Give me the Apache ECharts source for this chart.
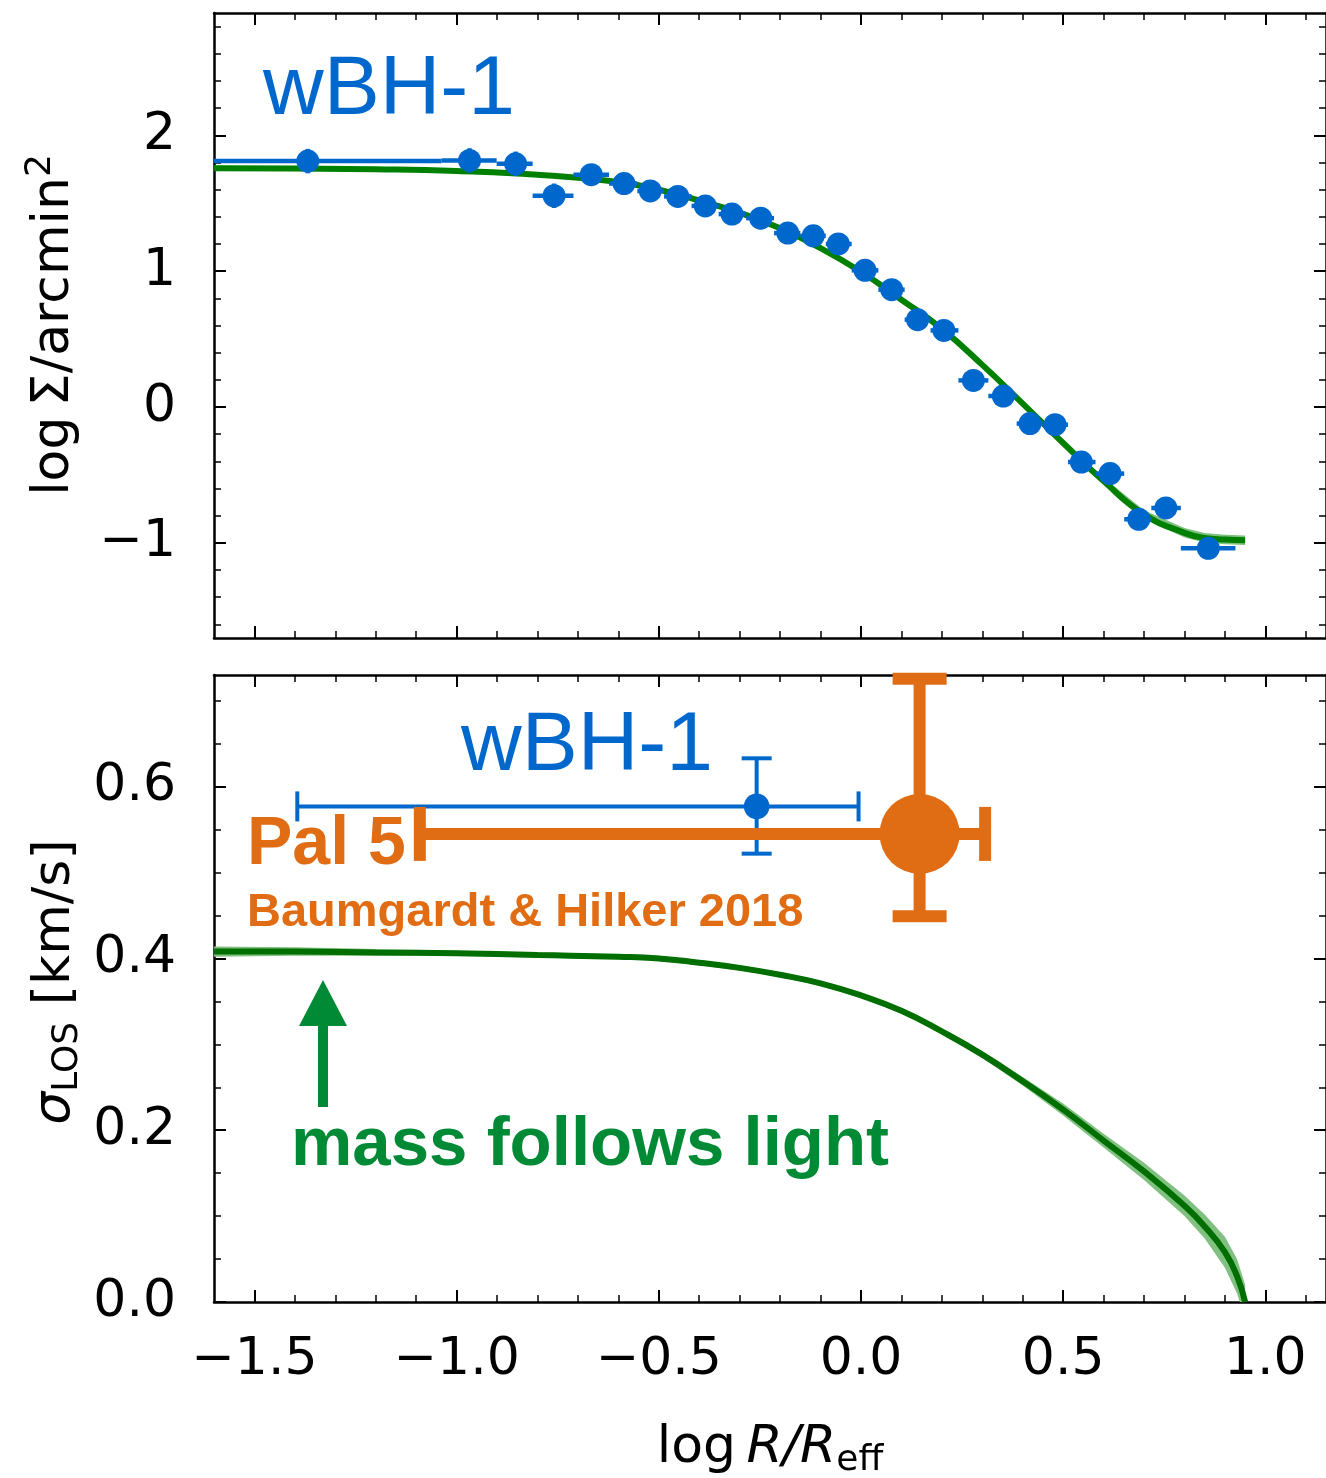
<!DOCTYPE html>
<html><head><meta charset="utf-8">
<script src="https://cdn.jsdelivr.net/npm/echarts@6/dist/echarts.min.js"></script>
<style>html,body{margin:0;padding:0;background:#fff}#c{width:1326px;height:1478px}</style>
</head><body><div id="c"></div><script>
// ---------- tick values ----------
const xMajorTicks = [-1.5, -1.0, -0.5, 0.0, 0.5, 1.0];
const xMinorTicks = [-1.4,-1.3,-1.2,-1.1,-0.9,-0.8,-0.7,-0.6,-0.4,-0.3,-0.2,-0.1,0.1,0.2,0.3,0.4,0.6,0.7,0.8,0.9,1.1];
const topYMajorTicks = [-1, 0, 1, 2];
const topYMinorTicks = [-1.6,-1.4,-1.2,-0.8,-0.6,-0.4,-0.2,0.2,0.4,0.6,0.8,1.2,1.4,1.6,1.8,2.2,2.4,2.6,2.8];
const botYMajorTicks = [0.0, 0.2, 0.4, 0.6];
const botYMinorTicks = [0.05,0.1,0.15,0.25,0.3,0.35,0.45,0.5,0.55,0.65,0.7];

// ---------- top panel: surface density profile ----------
const profX   = [-1.368,-0.968,-0.854,-0.759,-0.667,-0.586,-0.521,-0.453,-0.385,-0.319,-0.248,-0.181,-0.118,-0.056,0.010,0.076,0.140,0.205,0.278,0.352,0.418,0.480,0.545,0.616,0.687,0.754,0.859];
const profY   = [1.81,1.815,1.79,1.555,1.71,1.645,1.59,1.55,1.48,1.42,1.39,1.28,1.26,1.20,1.006,0.864,0.643,0.564,0.196,0.081,-0.122,-0.130,-0.405,-0.49,-0.826,-0.743,-1.04];
const profXLo = [-2.0,-1.037,-0.901,-0.812,-0.711,-0.623,-0.553,-0.487,-0.419,-0.352,-0.284,-0.215,-0.150,-0.087,-0.023,0.043,0.108,0.172,0.241,0.315,0.385,0.449,0.512,0.580,0.651,0.718,0.791];
const profXHi = [-1.037,-0.901,-0.812,-0.711,-0.623,-0.553,-0.487,-0.419,-0.352,-0.284,-0.215,-0.150,-0.087,-0.023,0.043,0.108,0.172,0.241,0.315,0.385,0.449,0.512,0.580,0.651,0.718,0.791,0.926];
const profYErr = [0.09,0.09,0.09,0.09,0.06,0.05,0.05,0.05,0.05,0.05,0.05,0.05,0.05,0.05,0.05,0.05,0.05,0.05,0.06,0.06,0.06,0.06,0.06,0.06,0.07,0.07,0.07];

const topModelX = [-1.6,-1.4,-1.2,-1.0,-0.8,-0.6,-0.5,-0.4,-0.3,-0.2,-0.1,0.0,0.1,0.2,0.3,0.4,0.5,0.6,0.7,0.8,0.85,0.9,0.95];
const topModelY = [1.757,1.755,1.75,1.737,1.71,1.656,1.60,1.52,1.43,1.315,1.17,0.995,0.79,0.575,0.31,0.025,-0.265,-0.545,-0.79,-0.926,-0.963,-0.975,-0.98];
const topBandHalf = [0.02,0.012,0.01,0.01,0.01,0.01,0.01,0.01,0.01,0.01,0.01,0.01,0.01,0.012,0.014,0.016,0.02,0.025,0.03,0.035,0.035,0.035,0.035];

// ---------- bottom panel: velocity dispersion ----------
const dispModelX = [-1.6,-1.4,-1.2,-1.0,-0.8,-0.6,-0.5,-0.4,-0.3,-0.2,-0.1,0.0,0.1,0.2,0.3,0.4,0.5,0.6,0.7,0.8,0.85,0.9,0.93,0.95];
const dispModelY = [0.408,0.408,0.407,0.406,0.404,0.402,0.400,0.395,0.389,0.381,0.371,0.357,0.339,0.315,0.288,0.257,0.224,0.188,0.152,0.112,0.088,0.058,0.030,0.0];
const dispBandHalf = [0.006,0.005,0.004,0.003,0.003,0.003,0.003,0.003,0.003,0.003,0.003,0.003,0.003,0.003,0.004,0.005,0.007,0.008,0.010,0.012,0.014,0.018,0.020,0.020];

// measured points: [x, y, xLo, xHi, yLo, yHi]
const wbhPoint = [-0.258, 0.577, -1.394, -0.006, 0.522, 0.633];
const pal5Point = [0.145, 0.545, -1.091, 0.307, 0.449, 0.7255];

const BLUE = '#0068CC', ORANGE = '#E06C14', GREEN = '#008000', LGREEN = '#80C080', TGREEN = '#008A35';
const FS = 52;

const chart = echarts.init(document.getElementById('c'), null, {renderer: 'canvas'});

function fmt(d) { return function (v) { return (v < 0 ? '\u2212' : '') + Math.abs(v).toFixed(d); }; }

function axis(gridIndex, position, min, max, ticks, len, w, label, lineShow) {
  return {
    type: 'value', gridIndex: gridIndex, position: position, min: min, max: max,
    splitLine: {show: false}, minorTick: {show: false},
    axisLine: {show: lineShow, onZero: false, lineStyle: {color: '#000', width: 2.5}},
    axisTick: {show: true, inside: true, length: len, lineStyle: {color: '#000', width: w}, customValues: ticks},
    axisLabel: label ? Object.assign({customValues: ticks, color: '#000', fontSize: FS, fontFamily: 'DejaVu Sans'}, label) : {show: false}
  };
}

const XMIN = -1.6, XMAX = 1.15;
const xAxes = [
  axis(0, 'bottom', XMIN, XMAX, xMajorTicks, 12, 2, null, true),
  axis(0, 'bottom', XMIN, XMAX, xMinorTicks, 7, 1.5, null, false),
  axis(0, 'top', XMIN, XMAX, xMajorTicks, 12, 2, null, true),
  axis(0, 'top', XMIN, XMAX, xMinorTicks, 7, 1.5, null, false),
  axis(1, 'bottom', XMIN, XMAX, xMajorTicks, 12, 2, {margin: 32, formatter: fmt(1)}, true),
  axis(1, 'bottom', XMIN, XMAX, xMinorTicks, 7, 1.5, null, false),
  axis(1, 'top', XMIN, XMAX, xMajorTicks, 12, 2, null, true),
  axis(1, 'top', XMIN, XMAX, xMinorTicks, 7, 1.5, null, false)
];
const yAxes = [
  axis(0, 'left', -1.7, 2.9, topYMajorTicks, 12, 2, {margin: 38, formatter: fmt(0)}, true),
  axis(0, 'left', -1.7, 2.9, topYMinorTicks, 7, 1.5, null, false),
  axis(0, 'right', -1.7, 2.9, topYMajorTicks, 12, 2, null, true),
  axis(0, 'right', -1.7, 2.9, topYMinorTicks, 7, 1.5, null, false),
  axis(1, 'left', 0, 0.73, botYMajorTicks, 12, 2, {margin: 38, formatter: fmt(1)}, true),
  axis(1, 'left', 0, 0.73, botYMinorTicks, 7, 1.5, null, false),
  axis(1, 'right', 0, 0.73, botYMajorTicks, 12, 2, null, true),
  axis(1, 'right', 0, 0.73, botYMinorTicks, 7, 1.5, null, false)
];

function bandSeries(xs, ys, half, axisIdx) {
  return {
    type: 'custom', xAxisIndex: axisIdx, yAxisIndex: axisIdx, clip: true, silent: true, z: 2,
    data: [[xs[0], ys[0]]],
    renderItem: function (params, api) {
      const pts = [];
      for (let i = 0; i < xs.length; i++) pts.push(api.coord([xs[i], ys[i] + half[i]]));
      for (let i = xs.length - 1; i >= 0; i--) pts.push(api.coord([xs[i], ys[i] - half[i]]));
      return {type: 'polygon', shape: {points: pts}, style: {fill: LGREEN}};
    }
  };
}

function lineSeries(xs, ys, axisIdx, color) {
  return {
    type: 'line', xAxisIndex: axisIdx, yAxisIndex: axisIdx, showSymbol: false, symbol: 'none',
    smooth: 0.5, silent: true, z: 3,
    lineStyle: {color: color, width: 6},
    data: xs.map(function (x, i) { return [x, ys[i]]; })
  };
}

function errSeries(data, axisIdx, color, lw, cap, r, clip, z) {
  return {
    type: 'custom', xAxisIndex: axisIdx, yAxisIndex: axisIdx, clip: clip, silent: true, z: z,
    data: data,
    renderItem: function (params, api) {
      const x = api.value(0), y = api.value(1);
      const c = api.coord([x, y]);
      const l = api.coord([api.value(2), y]), rr = api.coord([api.value(3), y]);
      const b = api.coord([x, api.value(4)]), t = api.coord([x, api.value(5)]);
      const st = {stroke: color, lineWidth: lw, fill: null};
      const ch = [
        {type: 'line', shape: {x1: l[0], y1: l[1], x2: rr[0], y2: rr[1]}, style: st},
        {type: 'line', shape: {x1: b[0], y1: b[1], x2: t[0], y2: t[1]}, style: st}
      ];
      if (cap > 0) {
        ch.push({type: 'line', shape: {x1: l[0], y1: l[1] - cap, x2: l[0], y2: l[1] + cap}, style: st});
        ch.push({type: 'line', shape: {x1: rr[0], y1: rr[1] - cap, x2: rr[0], y2: rr[1] + cap}, style: st});
        ch.push({type: 'line', shape: {x1: b[0] - cap, y1: b[1], x2: b[0] + cap, y2: b[1]}, style: st});
        ch.push({type: 'line', shape: {x1: t[0] - cap, y1: t[1], x2: t[0] + cap, y2: t[1]}, style: st});
      }
      ch.push({type: 'circle', shape: {cx: c[0], cy: c[1], r: r}, style: {fill: color}});
      return {type: 'group', children: ch};
    }
  };
}

const profData = profX.map(function (x, i) {
  return [x, profY[i], profXLo[i], profXHi[i], profY[i] - profYErr[i], profY[i] + profYErr[i]];
});

function tx(x, y, text, color, size, bold) {
  return {type: 'text', x: x, y: y, style: {text: text, fill: color, fontSize: size, fontWeight: bold ? 'bold' : 'normal',
    fontFamily: 'Liberation Sans', align: 'left', verticalAlign: 'middle', textAlign: 'left', textVerticalAlign: 'middle'}};
}
const RN = {fontSize: FS, fontFamily: 'DejaVu Sans', fill: '#000', color: '#000', lineHeight: 62, verticalAlign: 'middle'};
const RI = Object.assign({}, RN, {fontStyle: 'italic'});
const RSUB = {fontSize: 36, fontFamily: 'DejaVu Sans', fill: '#000', color: '#000', lineHeight: 36, verticalAlign: 'bottom'};
const RSUP = Object.assign({}, RSUB, {verticalAlign: 'top'});

const option = {
  animation: false,
  backgroundColor: '#fff',
  grid: [
    {left: 214, top: 13, width: 1114, height: 625},
    {left: 214, top: 675, width: 1114, height: 627}
  ],
  xAxis: xAxes,
  yAxis: yAxes,
  series: [
    bandSeries(topModelX, topModelY, topBandHalf, 0),
    lineSeries(topModelX, topModelY, 0, GREEN),
    errSeries(profData, 0, BLUE, 4.5, 0, 11.5, true, 5),
    bandSeries(dispModelX, dispModelY, dispBandHalf, 4),
    lineSeries(dispModelX, dispModelY, 4, '#006E00'),
    errSeries([wbhPoint], 4, BLUE, 4, 15, 12.8, false, 5),
    errSeries([pal5Point], 4, ORANGE, 12, 27, 40, false, 6)
  ],
  graphic: [
    tx(263, 91, 'wBH-1', BLUE, 84, false),
    tx(461, 747, 'wBH-1', BLUE, 84, false),
    tx(247, 845, 'Pal 5', ORANGE, 68, true),
    tx(247, 913, 'Baumgardt & Hilker 2018', ORANGE, 47, true),
    tx(291, 1146, 'mass follows light', TGREEN, 69, true),
    {type: 'rect', shape: {x: 318, y: 1020, width: 10, height: 87}, style: {fill: TGREEN}},
    {type: 'polygon', shape: {points: [[323, 980], [347, 1026], [299, 1026]]}, style: {fill: TGREEN}},
    {type: 'text', x: 54, y: 325, rotation: Math.PI / 2,
      style: {text: '{a|log\u2009\u03A3/arcmin}{b|2}', align: 'center', verticalAlign: 'middle', textAlign: 'center', textVerticalAlign: 'middle',
        rich: {a: RN, b: RSUP}}},
    {type: 'text', x: 55, y: 982, rotation: Math.PI / 2,
      style: {text: '{s|\u03C3}{b|LOS}{a| [km/s]}', align: 'center', verticalAlign: 'middle', textAlign: 'center', textVerticalAlign: 'middle',
        rich: {s: RI, a: RN, b: RSUB}}},
    {type: 'text', x: 770, y: 1448,
      style: {text: '{a|log\u2009}{i|R/R}{b|eff}', align: 'center', verticalAlign: 'middle', textAlign: 'center', textVerticalAlign: 'middle',
        rich: {a: RN, i: RI, b: RSUB}}}
  ]
};
chart.setOption(option);
</script></body></html>
